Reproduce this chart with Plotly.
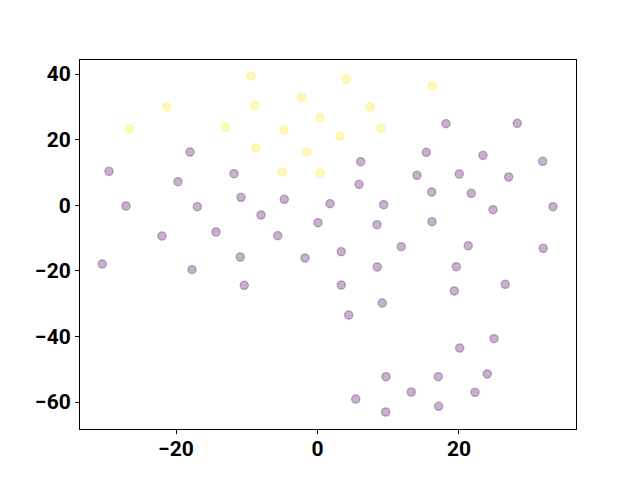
import plotly.graph_objects as go

# Yellow class (label 1)
yellow_x = [-9.40, 4.07, 16.23, -21.31, -2.23, -8.88, 7.46, -26.60, -12.98, -4.73,
            0.35, 3.14, 8.98, -8.73, -1.48, -4.98, 0.35]
yellow_y = [39.39, 38.48, 36.34, 29.94, 32.90, 30.34, 29.94, 23.23, 23.84, 23.02,
            26.80, 21.01, 23.45, 17.53, 16.22, 10.12, 9.82]

# Purple class (label 0)
purple_x = [-18.02, -29.47, -19.72, -11.80, -10.81, -4.69, -27.07, -16.99, -7.99, 0.07,
            1.77, -21.98, -14.35, -5.63, 18.16, 28.24, 15.38, 23.39, 6.11, 31.83,
            14.06, 20.04, 27.02, 5.87, 16.14, 21.74, 9.36, 24.81, 33.29, 8.41,
            16.18, -30.42, -17.74, -10.91, -1.77, -10.35, 3.36, 11.84, 21.31, 31.91,
            8.45, 19.62, 3.36, 26.54, 19.34, 9.16, 4.41, 24.95, 20.10, 9.68,
            17.07, 24.00, 5.40, 13.26, 22.26, 9.64, 17.13]
purple_y = [16.22, 10.34, 7.16, 9.60, 2.41, 1.80, -0.24, -0.46, -2.99, -5.34,
            0.46, -9.39, -8.17, -9.30, 24.85, 24.97, 16.13, 15.21, 13.26, 13.38,
            9.12, 9.51, 8.60, 6.37, 4.02, 3.63, 0.15, -1.37, -0.46, -5.95,
            -5.03, -17.93, -19.66, -15.79, -16.10, -24.42, -14.18, -12.65, -12.35, -13.14,
            -18.84, -18.75, -24.33, -24.12, -26.16, -29.82, -33.48, -40.70, -43.54, -52.29,
            -52.29, -51.46, -59.09, -56.95, -57.04, -63.05, -61.31]

x_ticks = [-20, 0, 20]
y_ticks = [-60, -40, -20, 0, 20, 40]

def marker(rgb):
    return dict(size=8.3, color=f"rgba({rgb},0.3)",
                line=dict(width=1.3, color=f"rgba({rgb},0.3)"))

fig = go.Figure()
fig.add_trace(go.Scatter(x=purple_x, y=purple_y, mode="markers",
                         marker=marker("68,1,84"), showlegend=False))
fig.add_trace(go.Scatter(x=yellow_x, y=yellow_y, mode="markers",
                         marker=marker("253,231,37"), showlegend=False))

axis_common = dict(showgrid=False, zeroline=False, showline=True, linecolor="black",
                   linewidth=1, mirror=True, ticks="outside", ticklen=4, tickwidth=1,
                   tickcolor="black",
                   tickfont=dict(family="Roboto", size=21, color="black", weight="bold"))

fig.update_xaxes(range=[-33.57, 36.54], tickvals=x_ticks, ticklabelstandoff=-3, **axis_common)
fig.update_yaxes(range=[-68.23, 44.27], tickvals=y_ticks, **axis_common)

fig.update_layout(width=632, height=472, plot_bgcolor="white", paper_bgcolor="white",
                  margin=dict(l=72, r=64, t=52, b=51))

fig.write_html("out.html")
